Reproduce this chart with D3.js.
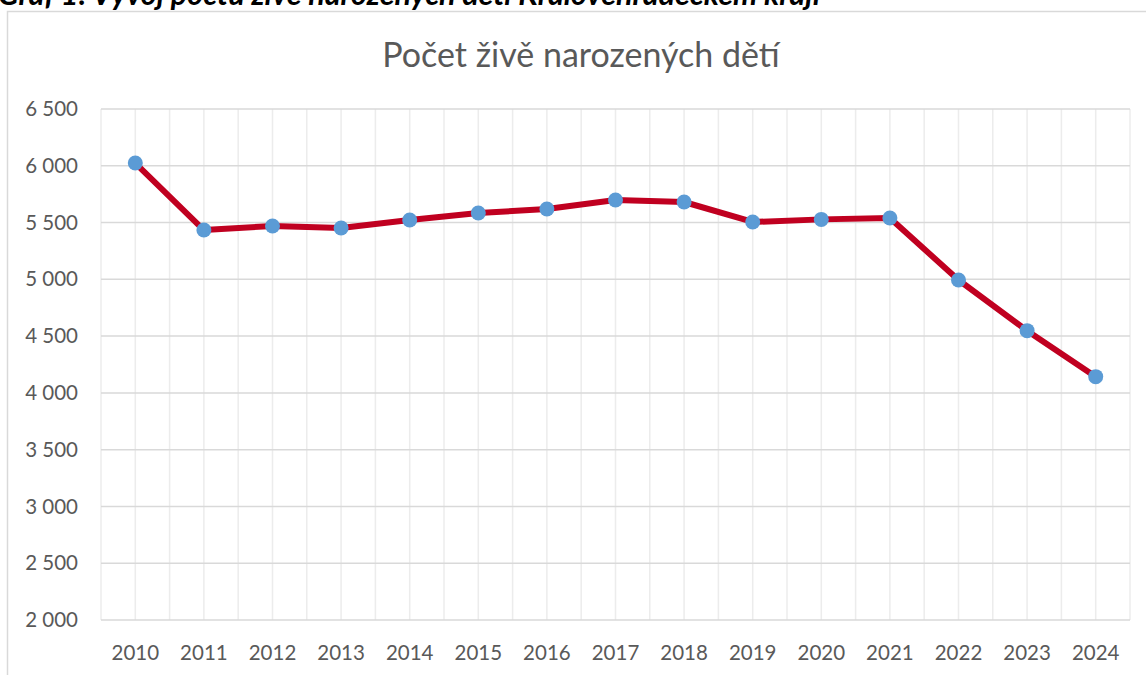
<!DOCTYPE html>
<html>
<head>
<meta charset="utf-8">
<script src="https://cdn.jsdelivr.net/npm/d3@7"></script>
<style>
  body { margin: 0; background: #fff; }
  svg { display: block; }
</style>
</head>
<body>
<svg id="chart" width="1146" height="675"></svg>
<script>
const years = [2010, 2011, 2012, 2013, 2014, 2015, 2016, 2017, 2018, 2019, 2020, 2021, 2022, 2023, 2024];
const births = [6024, 5434, 5470, 5452, 5522, 5584, 5619, 5698, 5681, 5505, 5528, 5540, 4994, 4548, 4143];
const yTicks = [2000, 2500, 3000, 3500, 4000, 4500, 5000, 5500, 6000, 6500];
const chartTitle = "Počet živě narozených dětí";
const caption = "Graf 1: Vývoj počtu živě narozených dětí Královéhradeckém kraji";

const data = years.map((y, i) => ({ year: y, value: births[i] }));

const svg = d3.select("#chart");
const font = "Lato, 'Open Sans', sans-serif";

// caption, cut at the top edge like in the source page
svg.append("text")
  .attr("x", -2).attr("y", 5)
  .attr("font-family", font)
  .attr("font-size", 30.5)
  .attr("font-weight", "bold")
  .attr("font-style", "italic")
  .attr("fill", "#000")
  .text(caption);

// chart frame
svg.append("rect")
  .attr("x", 7.5).attr("y", 11.5)
  .attr("width", 1150).attr("height", 700)
  .attr("fill", "#fff")
  .attr("stroke", "#d9d9d9")
  .attr("stroke-width", 1.5);

const plotL = 101, plotR = 1130, plotT = 109, plotB = 620;

const x = d3.scaleBand().domain(years).range([plotL, plotR]);
const y = d3.scaleLinear().domain([2000, 6500]).range([plotB, plotT]);

// vertical gridlines (category centres + boundaries)
const vLines = [];
years.forEach(yr => { vLines.push(x(yr)); vLines.push(x(yr) + x.bandwidth() / 2); });
vLines.push(plotR);
svg.append("g").selectAll("line")
  .data(vLines)
  .join("line")
  .attr("x1", d => d).attr("x2", d => d)
  .attr("y1", plotT).attr("y2", plotB)
  .attr("stroke", "#ececec")
  .attr("stroke-width", 1.5);

// horizontal gridlines
svg.append("g").selectAll("line")
  .data(yTicks)
  .join("line")
  .attr("x1", plotL).attr("x2", plotR)
  .attr("y1", d => y(d)).attr("y2", d => y(d))
  .attr("stroke", "#d9d9d9")
  .attr("stroke-width", 1.5);

// y axis labels
const fmt = v => d3.format(",")(v).replace(",", " ");
const yAxis = d3.axisLeft(y).tickValues(yTicks).tickFormat(fmt).tickSize(0).tickPadding(23);
svg.append("g")
  .attr("transform", `translate(${plotL},0)`)
  .call(yAxis)
  .call(g => g.select(".domain").remove())
  .call(g => g.selectAll("text")
    .attr("font-family", font)
    .attr("font-size", 20.5)
    .attr("fill", "#595959"));

// x axis labels
const xAxis = d3.axisBottom(x).tickSize(0).tickPadding(25);
svg.append("g")
  .attr("transform", `translate(0,${plotB})`)
  .call(xAxis)
  .call(g => g.select(".domain").remove())
  .call(g => g.selectAll("text")
    .attr("font-family", font)
    .attr("font-size", 20.5)
    .attr("fill", "#595959"));

// title
svg.append("text")
  .attr("x", 581).attr("y", 67)
  .attr("text-anchor", "middle")
  .attr("font-family", font)
  .attr("font-size", 34)
  .attr("fill", "#595959")
  .text(chartTitle);

const cx = d => x(d.year) + x.bandwidth() / 2;

// line
svg.append("path")
  .datum(data)
  .attr("fill", "none")
  .attr("stroke", "#c00020")
  .attr("stroke-width", 6)
  .attr("stroke-linejoin", "round")
  .attr("d", d3.line().x(cx).y(d => y(d.value)));

// markers
svg.append("g").selectAll("circle")
  .data(data)
  .join("circle")
  .attr("cx", cx)
  .attr("cy", d => y(d.value))
  .attr("r", 7.5)
  .attr("fill", "#5b9bd5");
</script>
</body>
</html>
